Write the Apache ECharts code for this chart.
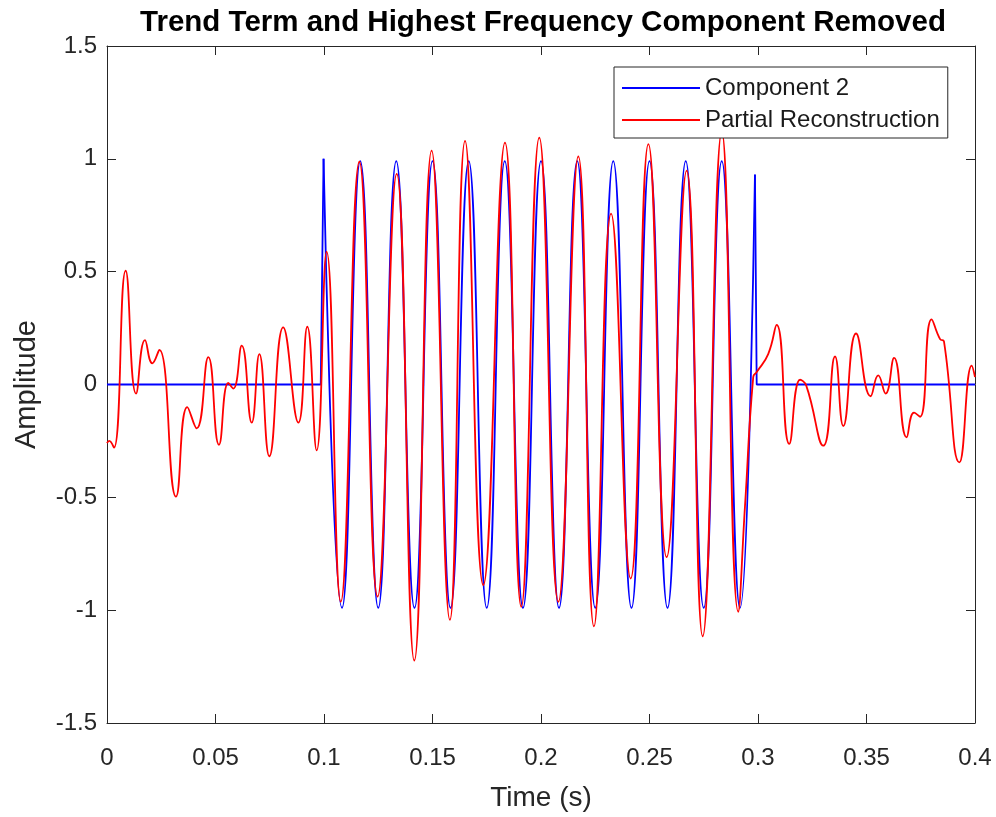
<!DOCTYPE html>
<html>
<head>
<meta charset="utf-8">
<script src="https://cdn.jsdelivr.net/npm/echarts@6/dist/echarts.min.js"></script>
<style>
html,body{margin:0;padding:0;background:#fff;}
#chart{width:996px;height:817px;}
</style>
</head>
<body>
<div id="chart"></div>
<script>
// ---- data ----
var titleText = 'Trend Term and Highest Frequency Component Removed';
var xAxisName = 'Time (s)';
var yAxisName = 'Amplitude';
var seriesNames = ['Component 2', 'Partial Reconstruction'];

// Component 2: flat zero before the burst
var compLeftTime  = [0, 0.0985, 0.0998];
var compLeftValue = [0, 0, 1.0];
// Component 2: the 60 Hz burst (peaks and troughs)
var compBurstTime  = [0.0998, 0.1083, 0.1167, 0.1250, 0.1333, 0.1417, 0.1500, 0.1583, 0.1667, 0.1750,
                      0.1833, 0.1917, 0.2000, 0.2083, 0.2167, 0.2250, 0.2333, 0.2417, 0.2500, 0.2583,
                      0.2667, 0.2750, 0.2833, 0.2917, 0.2986];
var compBurstValue = [1.0, -0.99, 0.99, -0.99, 0.99, -0.99, 0.99, -0.99, 0.99, -0.99,
                      0.99, -0.99, 0.99, -0.99, 0.99, -0.99, 0.99, -0.99, 0.99, -0.99,
                      0.99, -0.99, 0.99, -0.99, 0.93];
// Component 2: flat zero after the burst
var compRightTime  = [0.2986, 0.2994, 0.4];
var compRightValue = [0.93, 0, 0];

// Partial Reconstruction
var reconTime = [0, 0.001, 0.0032, 0.0086, 0.0134, 0.0175, 0.0209, 0.0241, 0.0318, 0.037,
                 0.0413, 0.0467, 0.0516, 0.0559, 0.0582, 0.0621, 0.0667, 0.0702, 0.0748, 0.0812,
                 0.0882, 0.0923, 0.0966, 0.1012, 0.1077, 0.1163, 0.1247, 0.1335, 0.1416, 0.1496,
                 0.158, 0.165, 0.1734, 0.1834, 0.1909, 0.1992, 0.208, 0.2172, 0.2244, 0.2323,
                 0.2413, 0.2495, 0.2579, 0.2671, 0.2745, 0.2833, 0.2909, 0.294, 0.2978, 0.2994,
                 0.3047, 0.3086, 0.3144, 0.3194, 0.3222, 0.3301, 0.3355, 0.3393, 0.3452, 0.3519,
                 0.3554, 0.3588, 0.3627, 0.3685, 0.3719, 0.3747, 0.38, 0.3839, 0.3857, 0.3928,
                 0.3985, 0.4];
var reconValue = [-0.26, -0.25, -0.28, 0.504, -0.04, 0.197, 0.094, 0.153, -0.497, -0.10,
                  -0.194, 0.121, -0.267, 0.007, -0.018, 0.172, -0.169, 0.135, -0.318, 0.253,
                  -0.169, 0.256, -0.292, 0.589, -0.963, 0.987, -0.94, 0.933, -1.223, 1.036,
                  -1.043, 1.08, -0.889, 1.072, -0.985, 1.094, -0.963, 1.011, -1.072, 0.757,
                  -0.86, 1.065, -0.765, 0.948, -1.116, 1.12, -1.007, -0.54, 0.033, 0.055,
                  0.135, 0.264, -0.263, 0.021, -0.004, -0.271, 0.124, -0.184, 0.226, -0.052,
                  0.04, -0.04, 0.118, -0.234, -0.125, -0.143, 0.289, 0.201, 0.191, -0.345,
                  0.084, 0.033];

var xMin = 0, xMax = 0.4, xStep = 0.05;
var yMin = -1.5, yMax = 1.5, yStep = 0.5;

function pairs(t, v) {
  var out = [];
  for (var i = 0; i < t.length; i++) out.push([t[i], v[i]]);
  return out;
}

var BLUE = '#0000ff', RED = '#ff0000', AX = '#262626';
var FONT = '"Liberation Sans", Arial, Helvetica, sans-serif';

function axisCommon(extra) {
  var base = {
    type: 'value',
    axisLine: { show: true, onZero: false, lineStyle: { color: AX, width: 1 } },
    axisTick: { show: true, inside: true, length: 9, lineStyle: { color: AX, width: 1 } },
    splitLine: { show: false }
  };
  for (var k in extra) base[k] = extra[k];
  return base;
}

var chart = echarts.init(document.getElementById('chart'), null, { renderer: 'canvas' });
var lineW = 1.8;
chart.setOption({
  backgroundColor: '#ffffff',
  animation: false,
  title: {
    text: titleText,
    left: 538,
    top: 3,
    textAlign: 'center',
    textStyle: { fontFamily: FONT, fontSize: 29.5, fontWeight: 'bold', color: '#000000' }
  },
  legend: {
    data: seriesNames,
    orient: 'vertical',
    left: 614,
    top: 67,
    padding: [9, 8, 6, 8],
    itemGap: 8,
    itemWidth: 78,
    itemHeight: 2,
    icon: 'rect',
    backgroundColor: '#ffffff',
    borderColor: AX,
    borderWidth: 1,
    borderRadius: 0,
    textStyle: { fontFamily: FONT, fontSize: 24, color: '#1a1a1a', padding: [0, 0, 0, 0] }
  },
  grid: { left: 107, right: 21, top: 46, bottom: 88, containLabel: false },
  xAxis: [
    axisCommon({
      position: 'bottom', min: xMin, max: xMax, interval: xStep,
      name: xAxisName, nameLocation: 'middle', nameGap: 61,
      nameTextStyle: { fontFamily: FONT, fontSize: 28, color: AX },
      axisLabel: { show: true, margin: 23, color: AX, fontFamily: FONT, fontSize: 24 }
    }),
    axisCommon({
      position: 'top', min: xMin, max: xMax, interval: xStep,
      axisLabel: { show: false }
    })
  ],
  yAxis: [
    axisCommon({
      position: 'left', min: yMin, max: yMax, interval: yStep,
      name: yAxisName, nameLocation: 'middle', nameGap: 66, nameRotate: 90,
      nameTextStyle: { fontFamily: FONT, fontSize: 29, color: AX },
      axisLabel: { show: true, margin: 10, color: AX, fontFamily: FONT, fontSize: 24 }
    }),
    axisCommon({
      position: 'right', min: yMin, max: yMax, interval: yStep,
      axisLabel: { show: false }
    })
  ],
  series: [
    {
      name: seriesNames[0], type: 'line', symbol: 'none', smooth: false,
      data: pairs(compLeftTime, compLeftValue),
      itemStyle: { color: BLUE }, lineStyle: { color: BLUE, width: lineW }
    },
    {
      name: seriesNames[0], type: 'line', symbol: 'none', smooth: 0.5,
      data: pairs(compBurstTime, compBurstValue),
      itemStyle: { color: BLUE }, lineStyle: { color: BLUE, width: lineW }
    },
    {
      name: seriesNames[0], type: 'line', symbol: 'none', smooth: false,
      data: pairs(compRightTime, compRightValue),
      itemStyle: { color: BLUE }, lineStyle: { color: BLUE, width: lineW }
    },
    {
      name: seriesNames[1], type: 'line', symbol: 'none', smooth: 0.5,
      data: pairs(reconTime, reconValue),
      itemStyle: { color: RED }, lineStyle: { color: RED, width: lineW }
    }
  ]
});
</script>
</body>
</html>
